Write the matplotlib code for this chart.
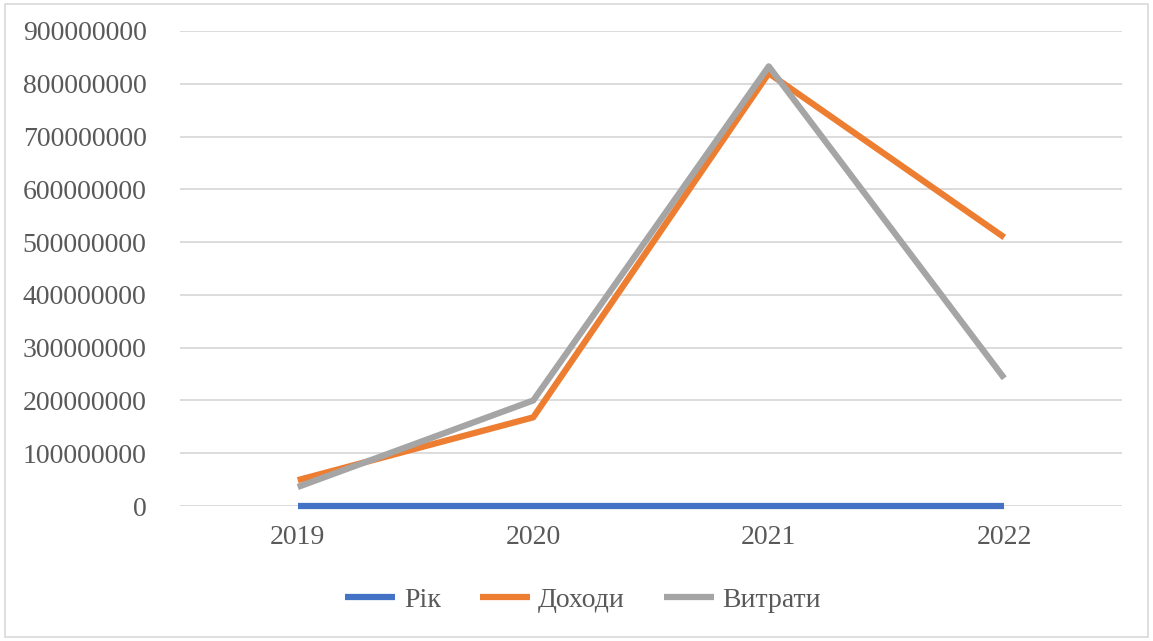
import matplotlib
matplotlib.use("Agg")
import matplotlib.pyplot as plt
from matplotlib.patches import Rectangle
from matplotlib.ticker import MultipleLocator, FuncFormatter

# ── Data ──────────────────────────────────────────────────────────────────────
years = ["2019", "2020", "2021", "2022"]
rik = [2019, 2020, 2021, 2022]
dohody = [49_000_000, 168_000_000, 820_000_000, 509_000_000]
vytraty = [36_000_000, 200_000_000, 833_000_000, 242_000_000]

# ── Style ─────────────────────────────────────────────────────────────────────
plt.rcParams.update({
    "font.family": ["Liberation Serif", "DejaVu Serif"],
    "font.size": 20,
})

TEXT = "#595959"
GRID = "#D9D9D9"

fig = plt.figure(figsize=(11.53, 6.41), dpi=100)
ax = fig.add_axes([180 / 1153, 1 - 506 / 641, 942 / 1153, 475 / 641])

xs = list(range(len(years)))
ax.plot(xs, rik, color="#4472C4", lw=4.5, label="Рік",
        solid_capstyle="butt", clip_on=False)
ax.plot(xs, dohody, color="#ED7D31", lw=4.5, label="Доходи",
        solid_capstyle="butt", clip_on=False)
ax.plot(xs, vytraty, color="#A5A5A5", lw=4.5, label="Витрати",
        solid_capstyle="butt", clip_on=False)

ax.set_xlim(-0.5, len(years) - 0.5)
ax.set_ylim(0, 900_000_000)
ax.yaxis.set_major_locator(MultipleLocator(100_000_000))
ax.yaxis.set_major_formatter(FuncFormatter(lambda v, p: f"{int(v)}"))
ax.set_xticks(xs)
ax.set_xticklabels(years)

ax.grid(axis="y", color=GRID, lw=1.3)
ax.set_axisbelow(True)
for s in ax.spines.values():
    s.set_visible(False)
ax.tick_params(axis="both", length=0, colors=TEXT, labelsize=20)
ax.tick_params(axis="y", pad=24)
ax.tick_params(axis="x", pad=14)

leg = fig.legend(loc="center", bbox_to_anchor=(583 / 1153, 1 - 600 / 641),
                 ncol=3, frameon=False, fontsize=20, handlelength=1.8,
                 columnspacing=1.4, handletextpad=0.3)
for t in leg.get_texts():
    t.set_color(TEXT)

fig.patches.append(Rectangle((5 / 1153, 4 / 641), 1143 / 1153, 633 / 641,
                             transform=fig.transFigure, fill=False,
                             edgecolor="#D9D9D9", lw=1.2))

fig.savefig("out.png", dpi=100, facecolor="white")
